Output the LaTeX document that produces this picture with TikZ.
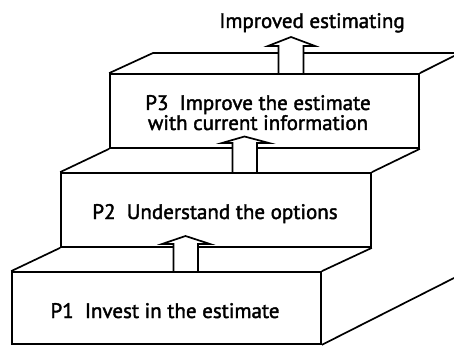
\documentclass[tikz,border=0pt]{standalone}
\usepackage{fontspec}
\setmainfont{PT Sans}
\newfontfamily\lblfont{PT Sans}[BoldFont={PT Sans},BoldFeatures={FakeBold=1.8}]
\begin{document}
\begin{tikzpicture}[x=1pt,y=-1pt,
  edge/.style={line width=1.7pt,line join=miter},
  face/.style={draw,line width=1.7pt,rectangle,inner sep=0pt},
  lbl/.style={font=\lblfont\bfseries\fontsize{21}{23}\selectfont,anchor=base,inner sep=0pt},
  blockarrow/.style={draw,fill=white,line width=1.7pt,line join=miter}]
\useasboundingbox (0,0) rectangle (454,347);

% front faces of the three steps
\node[face,minimum width=309pt,minimum height=74pt] (p3) at (264.5,111) {};
\node[face,minimum width=310pt,minimum height=74pt] (p2) at (216,210) {};
\node[face,minimum width=309pt,minimum height=72pt] (p1) at (166.5,308) {};

% back edges running off to the right
\coordinate (p3back) at (153,53);
\coordinate (p3far) at (454,53);
\coordinate (p3side) at (454,56);
\coordinate (p1side) at (454,278);

% top faces
\draw[edge] (p3.north west) -- (p3back) -- (p3far);
\draw[edge] (p3.north east) -- (p3side);
\draw[edge] (p2.north west) -- (p3.south west);
\draw[edge] (p2.north east) -- (p3.south east);
\draw[edge] (p1.north west) -- (p2.south west);
\draw[edge] (p1.north east) -- (p2.south east);
\draw[edge] (p1.south east) -- (p1side);

% block arrows between the steps
\draw[blockarrow] (278.5,74) -- (278.5,46) -- (268,46) -- (291,37) -- (315,46)
  -- (303.5,46) -- (303.5,74) -- cycle;
\draw[blockarrow] (232.5,173) -- (232.5,143) -- (222,143) -- (244.5,136.5) -- (269,143)
  -- (257,143) -- (257,173) -- cycle;
\draw[blockarrow] (173.5,272) -- (173.5,244) -- (162,244) -- (185.5,236) -- (210,244)
  -- (198,244) -- (198,272) -- cycle;

% labels
\node[lbl] (t0) at (312,28) {Improved estimating};
\node[lbl] (t3a) at (258,110) {P3\ \ Improve the estimate};
\node[lbl] (t3b) at (258,130) {with current information};
\node[lbl] (t2) at (215,219) {P2\ \ Understand the options};
\node[lbl] (t1) at (165,318) {P1\ \ Invest in the estimate};
\end{tikzpicture}
\end{document}
